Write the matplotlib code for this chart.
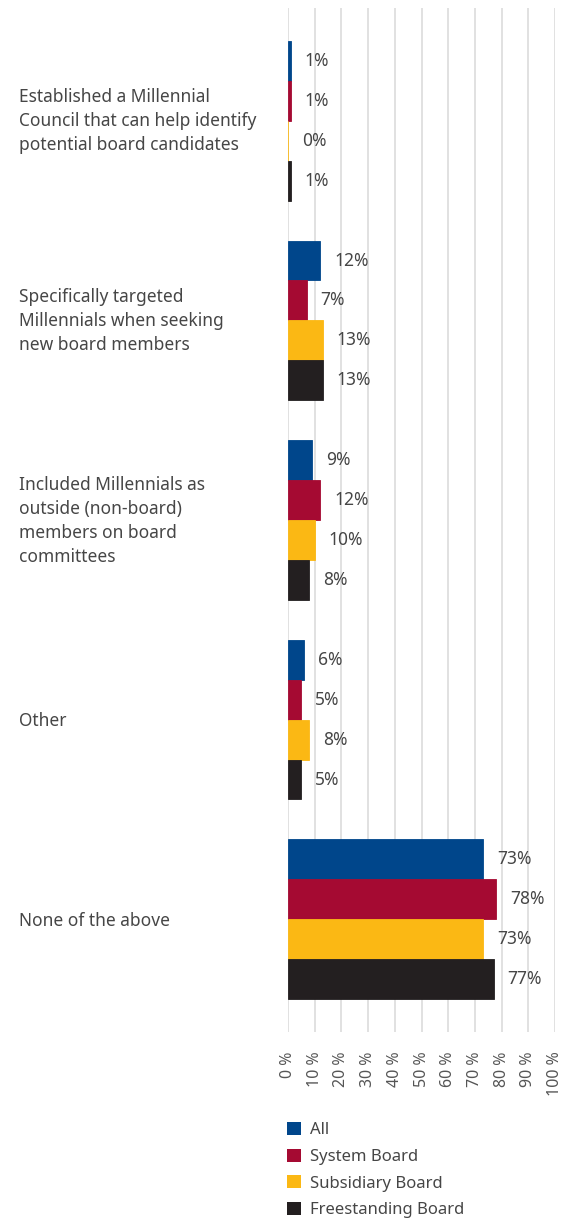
import numpy as np
import matplotlib.pyplot as plt
from matplotlib.patches import Patch

plt.rcParams['font.family'] = ['Noto Sans', 'DejaVu Sans']

categories = [
    "Established a Millennial\nCouncil that can help identify\npotential board candidates",
    "Specifically targeted\nMillennials when seeking\nnew board members",
    "Included Millennials as\noutside (non-board)\nmembers on board\ncommittees",
    "Other",
    "None of the above",
]
series = ["All", "System Board", "Subsidiary Board", "Freestanding Board"]
colors = ["#00468B", "#A50A32", "#FBB814", "#231F20"]

all_vals = [1, 12, 9, 6, 73]
system_vals = [1, 7, 12, 5, 78]
subsidiary_vals = [0, 13, 10, 8, 73]
freestanding_vals = [1, 13, 8, 5, 77]
values = [all_vals, system_vals, subsidiary_vals, freestanding_vals]

xticks = np.arange(0, 101, 10)
xticklabels = [f"{v} %" for v in xticks]

text_col = "#464646"

fig = plt.figure(figsize=(5.66, 12.18), dpi=100)
ax = fig.add_axes([0.5088, 0.1527, 0.4718, 0.8407])

bar_h = 0.2
y = np.arange(len(categories))
for i, (name, vals, c) in enumerate(zip(series, values, colors)):
    pos = y - 0.3 + i * bar_h
    ax.barh(pos, vals, height=bar_h, color=c, edgecolor=c, linewidth=0.6,
            label=name, zorder=2)
    for p, v in zip(pos, vals):
        ax.annotate(f"{v}%", (v, p), xytext=(10, 0), textcoords="offset points",
                    ha="left", va="center", fontsize=12.5, color=text_col)

ax.set_xlim(0, 100)
ax.set_ylim(len(categories) - 0.5 + 0.065, -0.565)
ax.set_xticks(xticks)
ax.set_xticklabels(xticklabels, rotation=90, fontsize=11.5, color="#555555")
ax.tick_params(axis="x", length=0, pad=14)
ax.set_yticks([])
ax.grid(axis="x", color="#dcdcdc", linewidth=1.2, zorder=0)
for s in ax.spines.values():
    s.set_visible(False)

for yi, cat in zip(y, categories):
    fig.text(19 / 566, 1 - (21 + yi * 200 + 100) / 1218, cat, ha="left", va="center",
             fontsize=12.5, color=text_col, linespacing=1.44)

handles = [Patch(facecolor=c, edgecolor="none") for c in colors]
fig.legend(handles, series, loc="upper left", bbox_to_anchor=(274 / 566, 1 - 1109 / 1218),
           frameon=False, fontsize=12, labelcolor=text_col, handlelength=0.8,
           handleheight=0.8, handletextpad=0.55, labelspacing=0.62, borderpad=0.3)

fig.savefig("out.png", dpi=100, facecolor="white")
